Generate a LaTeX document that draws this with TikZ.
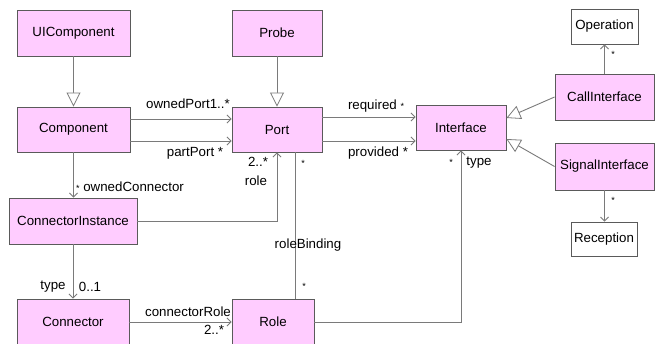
\documentclass[tikz,border=0pt]{standalone}
\usepackage{fontspec}
\setmainfont{Liberation Sans}
\usetikzlibrary{arrows.meta}
\definecolor{classfill}{HTML}{FFCCFF}
\definecolor{classedge}{HTML}{5A5A5A}
\definecolor{wire}{HTML}{7A7A7A}
% small multiplicity star
\newcommand{\smallstar}{{\fontsize{9}{10}\selectfont *}}
\begin{document}
\begin{tikzpicture}[x=1pt,y=-1pt,
  font=\fontsize{13.3}{15}\selectfont,
  cls/.style={draw=classedge,fill=classfill,line width=0.9pt,inner sep=0pt},
  plain/.style={draw=classedge,fill=white,line width=0.9pt,inner sep=0pt},
  wireline/.style={draw=wire,line width=0.9pt},
  assoc/.style={wireline,-{Straight Barb[length=4pt,width=8pt,line width=0.8pt]}},
  gen/.style={wireline,-{Triangle[open,length=14pt,width=14pt,fill=white,line width=0.8pt]}},
  lbl/.style={inner sep=0pt}]
\clip (0,0) rectangle (660,343);
\fill[white] (0,0) rectangle (660,343);

% classes
\node[cls,minimum width=113pt,minimum height=46pt] (ui)    at (73.5,33)   {UIComponent};
\node[cls,minimum width=90pt, minimum height=46pt] (probe) at (277,33)    {Probe};
\node[cls,minimum width=113pt,minimum height=45pt] (comp)  at (73.5,129.5){Component};
\node[cls,minimum width=90pt, minimum height=45pt] (port)  at (277,129.5) {Port};
\node[cls,minimum width=90pt, minimum height=45pt] (iface) at (461,127.5) {Interface};
\node[plain,minimum width=67pt,minimum height=35pt] (oper) at (604.5,26.5) {Operation};
\node[cls,minimum width=99pt, minimum height=46pt] (call)  at (604.5,97)  {CallInterface};
\node[cls,minimum width=99pt, minimum height=47pt] (sig)   at (604.5,166.5){SignalInterface};
\node[plain,minimum width=66pt,minimum height=34pt] (recep) at (604,239)  {Reception};
\node[cls,minimum width=128pt,minimum height=46pt] (ci)    at (73,221)    {ConnectorInstance};
\node[cls,minimum width=112pt,minimum height=46pt] (conn)  at (73,322)    {Connector};
\node[cls,minimum width=82pt, minimum height=46pt] (role)  at (273,322)   {Role};

% generalizations
\draw[gen] (ui) -- (comp);
\draw[gen] (probe) -- (port);
\draw[gen] (call.west) -- ([yshift=9.5pt]iface.east);
\draw[gen] (sig.west) -- ([yshift=-11.5pt]iface.east);

% associations
\draw[assoc] ([yshift=10.5pt]comp.east) -- ([yshift=10.5pt]comp.east -| port.west);
\draw[assoc] ([yshift=-11.5pt]comp.east) -- ([yshift=-11.5pt]comp.east -| port.west);
\draw[assoc] ([yshift=12.5pt]port.east) -- ([yshift=12.5pt]port.east -| iface.west);
\draw[assoc] ([yshift=-11.5pt]port.east) -- ([yshift=-11.5pt]port.east -| iface.west);
\draw[assoc] (comp.south) -- (comp.south |- ci.north);
\draw[assoc] (ci.east) -| (port.south);
\draw[assoc] (ci.south) -- (conn.north);
\draw[assoc] (conn.east) -- (role.west);
\draw[wireline] ([xshift=18pt]port.south) -- ([xshift=18pt]port.south |- role.north);
\draw[assoc] (role.east) -| (iface.south);
\draw[assoc] (call.north) -- (call.north |- oper.south);
\draw[assoc] (sig.south) -- (sig.south |- recep.north);

% role names and multiplicities
\node[lbl] (l1)  at (188,104) {ownedPort1..*};
\node[lbl] (l2)  at (195,153) {partPort *};
\node[lbl] (l3)  at (376,106) {required \smallstar};
\node[lbl] (l4)  at (378,153) {provided *};
\node[lbl] (l5)  at (258,162) {2..*};
\node[lbl] (l6)  at (256,181) {role};
\node[lbl] (l7)  at (303,163) {\smallstar};
\node[lbl] (l8)  at (308,245) {roleBinding};
\node[lbl] (l9)  at (304,286) {\smallstar};
\node[lbl] (l10) at (130,187) {\smallstar\ ownedConnector};
\node[lbl] (l11) at (53,287)  {type};
\node[lbl] (l12) at (90,287)  {0..1};
\node[lbl] (l13) at (188,312) {connectorRole};
\node[lbl] (l14) at (214,330) {2..*};
\node[lbl] (l15) at (451,162) {\smallstar};
\node[lbl] (l16) at (479,163) {type};
\node[lbl] (l17) at (613,54)  {\smallstar};
\node[lbl] (l18) at (613,200) {\smallstar};
\end{tikzpicture}
\end{document}
